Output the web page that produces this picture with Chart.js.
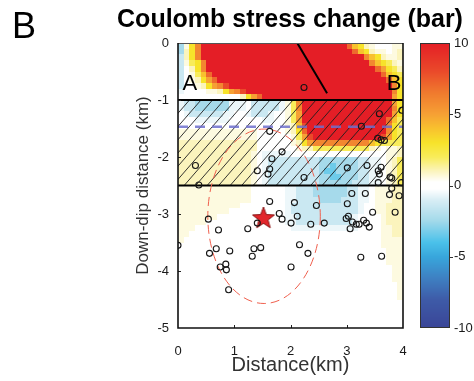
<!DOCTYPE html>
<html><head><meta charset="utf-8">
<script src="https://cdn.jsdelivr.net/npm/chart.js@4.4.1/dist/chart.umd.min.js"></script>
<style>html,body{margin:0;padding:0;background:#fff;}canvas{display:block;}</style>
</head><body>
<canvas id="c" width="474" height="381"></canvas>
<script>
// ---------------- data ----------------
const xTicks = [0, 1, 2, 3, 4];
const yTicks = [0, -1, -2, -3, -4, -5];
const cbarTicks = [-10, -5, 0, 5, 10];

// Coulomb stress change field (bar), 0.1 km cells, rows from 0 km downwards, 40 columns (0-4 km)
// run-length coded: level code, optional *count
const levelCodes = {R:10,'8':8,'7':7,'6':6,'5':5,'4':4,'3':3,'2':2,'1':1,p:0.6,'0':0,q:-0.6,a:-1.4,b:-2.4,c:-3.4};
const fieldX0 = 0, fieldDX = 0.1, fieldY0 = 0, fieldDY = -0.1, fieldCols = 40;
const fieldRows = [
 "b p 3 6 R*26 7 4 3 1 p 0*3 p p",
 "b 1 3 6 R*27 7 4 3 1 p p 0 p 1",
 "a 1 3 6 R*29 6 4 3 1 p p 1",
 "a p 2 3 6 R*29 6 4 3 2 1 p",
 "a 0 1 3 6 R*30 7 5 3 2 1",
 "a 0 p 2 4 7 R*30 7 4 3 2",
 "a 0 p 1 3 5 7 R*30 7 4 3",
 "a 0 0 p 1 3 5 6 8 R*29 6 3",
 "q 0*4 p p 1 3 5 6 8 R*26 6 3",
 "0*11 1 3 5 7 R*23 5 3",
 "q a*2 b*6 q*3 0 a*5 q p 2 6 R*16 5 3",
 "q a*2 b*6 q*3 0 a*5 q p 2 6 R*16 6 3",
 "0 q a*6 q*2 0*2 q a*3 q 0*2 p 2 5 R*16 5 3",
 "0*3 q*6 0*6 q*2 0*2 p 2 5 R*15 7 4 2",
 "0*19 p 1 4 8 R*14 6 3 2",
 "p*14 0*5 p 1 3 7 R*14 6 3 2",
 "p*14 0*6 p 2 5 8 R*12 8 5 3 2",
 "1*14 0*6 p 1 3 5 6*10 4 3 2 2 2 2",
 "1*14 0*7 p 1 1 2*10 1 p 0 p p 1",
 "1*13 p 0 q*5 0*15 0 0 p p 1",
 "1*13 p 0 q a*4 a*5 b*7 a*2 q*2 0 p 1 2",
 "1*13 p 0 q a*9 b b c b*4 a*2 q*2 0 p 1 2",
 "1*13 p 0 q a*9 b c c b*4 a*2 q*2 0 p 1 2",
 "1*13 p 0 q a*9 b b c c b*3 a*2 q*2 0 p 1 2",
 "1*13 p 0 q a*9 b*6 a a*2 q*2 0 p 1 2",
 "p*13 0*6 q q a*3 b*6 a*2 q*2 0 p*3 1*2",
 "p*13 0*6 q q a*3 b*6 a*2 q*2 0 p*3 1*2",
 "p*13 0*6 q q a*3 a b*4 a a*2 q*2 0 p*3 1*2",
 "p*11 0*8 q a*12 q 0*2 p*2 1*3",
 "p*9 0*10 q a*12 q 0*2 p*2 1*3",
 "p*7 0*12 q q a*10 q 0*4 p 1*3",
 "p*5 0*14 q*2 a*10 q 0*4 p 1*3",
 "p*3 0*17 q*12 0*4 p*2 1*2",
 "p*2 0*34 p*2 1*2",
 "p 0*35 p*4",
 "0*36 p*4",
 "0*37 p*3",
 "0*37 p*3",
 "0*37 p*3",
 "0*38 p*2",
 "0*38 p*2",
 "0*38 p*2",
 "0*39 p",
 "0*39 p",
 "0*39 p",
 "0*40","0*40","0*40","0*40","0*40"
];

// aftershock / event locations (km)
const eventsX = [2.24,3.58,3.98,3.26,1.63,3.55,3.61,3.67,1.85,1.67,0.31,1.41,1.63,1.60,3.01,3.36,3.61,3.56,3.58,3.77,3.80,3.56,3.97,2.24,0.37,
  3.80,3.76,3.93,3.86,3.62,3.25,3.09,3.33,3.01,3.46,2.99,3.03,3.10,3.06,3.17,3.22,3.30,3.35,3.40,2.07,2.46,2.12,2.01,2.36,2.60,2.16,2.31,2.01,
  0.00,0.54,0.72,0.56,0.68,0.92,0.75,0.85,0.86,0.90,1.24,1.41,1.63,1.80,1.85,1.35,1.32,1.47];
const eventsY = [-0.78,-1.24,-1.18,-1.46,-1.55,-1.67,-1.70,-1.71,-1.91,-2.03,-2.15,-2.24,-2.21,-2.30,-2.19,-2.15,-2.18,-2.24,-2.30,-2.35,-2.37,-2.45,-2.45,-2.36,-2.49,
  -2.55,-2.66,-2.68,-2.97,-3.74,-3.76,-2.64,-2.64,-2.82,-2.97,-3.08,-3.04,-3.14,-3.26,-3.18,-3.18,-3.11,-3.16,-3.23,-2.80,-2.85,-3.04,-3.16,-3.18,-3.16,-3.54,-3.69,-3.93,
  -3.55,-3.09,-3.28,-3.69,-3.61,-3.65,-3.93,-3.88,-3.98,-4.33,-3.26,-3.16,-2.78,-2.99,-3.09,-3.61,-3.74,-3.59];
const mainshockX = [1.52];
const mainshockY = [-3.07];
const faultTraceX = [2.12, 2.65];
const faultTraceY = [0, -0.88];
const hatchTop = -1.0, hatchBottom = -2.5;
const dashedDepth = -1.47;
const ellipseCenter = [1.53, -3.04];
const ellipseRadii = [1.0, 1.53];
const profileLabels = ['A', 'B'];
const profileLabelX = [0.21, 3.84];
const profileLabelY = [-0.71, -0.71];

// ---------------- helpers ----------------
const FONT = '"Liberation Sans", Arial, Helvetica, sans-serif';
Chart.defaults.font.family = FONT;

function decodeRow(s){
  const out = [];
  s.trim().split(/\s+/).forEach(tok => {
    const parts = tok.split('*');
    const k = parts[1] ? parseInt(parts[1], 10) : 1;
    for (let i = 0; i < k; i++) out.push(levelCodes[parts[0]]);
  });
  while (out.length < fieldCols) out.push(0);
  return out.slice(0, fieldCols);
}
const field = fieldRows.map(decodeRow);

const cmapStops = [
  [-10,'#3a4597'],[-8,'#3e5ba8'],[-6.5,'#3e80c2'],[-5,'#38a6dc'],[-4,'#4ac1ea'],[-2.5,'#a2d9ea'],
  [-1,'#d9eef5'],[-0.25,'#ffffff'],[0.25,'#ffffff'],[1,'#fbf4bd'],[2,'#f8ec5a'],[3,'#f7e32a'],
  [4,'#f8c12e'],[5,'#f6a034'],[6.5,'#f07a2e'],[8,'#ea4a2a'],[10,'#e41e26']
];
function hexRgb(h){ return [parseInt(h.slice(1,3),16),parseInt(h.slice(3,5),16),parseInt(h.slice(5,7),16)]; }
function colorFor(v){
  if (v <= cmapStops[0][0]) return cmapStops[0][1];
  for (let i = 1; i < cmapStops.length; i++){
    if (v <= cmapStops[i][0]){
      const [v0,c0] = cmapStops[i-1], [v1,c1] = cmapStops[i];
      const t = (v - v0) / (v1 - v0);
      const a = hexRgb(c0), b = hexRgb(c1);
      return 'rgb(' + a.map((x,j)=>Math.round(x + (b[j]-x)*t)).join(',') + ')';
    }
  }
  return cmapStops[cmapStops.length-1][1];
}

function makeStar(){
  const c = document.createElement('canvas'); c.width = 26; c.height = 26;
  const g = c.getContext('2d');
  g.beginPath();
  for (let i = 0; i < 10; i++){
    const r = i % 2 ? 4.8 : 11.5;
    const ang = -Math.PI/2 + i*Math.PI/5;
    g.lineTo(13 + r*Math.cos(ang), 13.5 + r*Math.sin(ang));
  }
  g.closePath();
  g.fillStyle = '#e2262b'; g.fill();
  g.strokeStyle = '#8a1515'; g.lineWidth = 1; g.stroke();
  return c;
}

const tickFont = {size: 13};
const tickColor = '#1a1a1a';

const overlay = {
  id: 'overlay',
  beforeDatasetsDraw(chart){
    const {ctx, chartArea: a, scales: {x, y}} = chart;
    ctx.save();
    ctx.beginPath(); ctx.rect(a.left, a.top, a.right - a.left, a.bottom - a.top); ctx.clip();
    // heat map cells
    field.forEach((row, r) => {
      row.forEach((v, c) => {
        const x0 = Math.round(x.getPixelForValue(fieldX0 + c*fieldDX));
        const x1 = Math.round(x.getPixelForValue(fieldX0 + (c+1)*fieldDX));
        const y0 = Math.round(y.getPixelForValue(fieldY0 + r*fieldDY));
        const y1 = Math.round(y.getPixelForValue(fieldY0 + (r+1)*fieldDY));
        ctx.fillStyle = colorFor(v);
        ctx.fillRect(x0, y0, x1 - x0, y1 - y0);
      });
    });
    // hatched zone
    const ht = y.getPixelForValue(hatchTop), hb = y.getPixelForValue(hatchBottom);
    ctx.save();
    ctx.beginPath(); ctx.rect(a.left, ht, a.right - a.left, hb - ht); ctx.clip();
    ctx.strokeStyle = '#1e1e1e'; ctx.lineWidth = 0.9;
    const run = (hb - ht) / 1.15;
    for (let k = a.left - run; k < a.right + 12; k += 11.5){
      ctx.beginPath(); ctx.moveTo(k, hb); ctx.lineTo(k + run, ht); ctx.stroke();
    }
    ctx.restore();
    ctx.strokeStyle = '#000'; ctx.lineWidth = 2;
    ctx.beginPath();
    ctx.moveTo(a.left, ht); ctx.lineTo(a.right, ht);
    ctx.moveTo(a.left, hb); ctx.lineTo(a.right, hb);
    ctx.stroke();
    // dashed reference depth
    const yd = y.getPixelForValue(dashedDepth);
    ctx.strokeStyle = 'rgba(110,112,205,0.85)'; ctx.lineWidth = 2.5; ctx.setLineDash([10, 7]);
    ctx.beginPath(); ctx.moveTo(a.left, yd); ctx.lineTo(a.right, yd); ctx.stroke();
    // rupture ellipse
    const cx = x.getPixelForValue(ellipseCenter[0]), cy = y.getPixelForValue(ellipseCenter[1]);
    const rx = x.getPixelForValue(ellipseCenter[0] + ellipseRadii[0]) - cx;
    const ry = cy - y.getPixelForValue(ellipseCenter[1] + ellipseRadii[1]);
    ctx.strokeStyle = '#f0604e'; ctx.lineWidth = 1; ctx.setLineDash([9, 5]);
    ctx.beginPath(); ctx.ellipse(cx, cy, rx, ry, 0, 0, Math.PI*2); ctx.stroke();
    ctx.setLineDash([]);
    ctx.restore();
  },
  afterDatasetsDraw(chart){
    const {ctx, scales: {x, y}} = chart;
    ctx.save();
    ctx.fillStyle = '#000';
    ctx.font = '22px ' + FONT;
    ctx.textAlign = 'center'; ctx.textBaseline = 'middle';
    profileLabels.forEach((t, i) => ctx.fillText(t, x.getPixelForValue(profileLabelX[i]), y.getPixelForValue(profileLabelY[i])));
    ctx.restore();
  },
  afterDraw(chart){
    const {ctx, chartArea: a, scales: {x, y, cbar}} = chart;
    ctx.save();
    // y tick labels (placed on the y scale, pixel-snapped)
    ctx.fillStyle = tickColor;
    ctx.font = tickFont.size + 'px ' + FONT;
    ctx.textAlign = 'right'; ctx.textBaseline = 'middle';
    yTicks.forEach(v => ctx.fillText(String(v), a.left - 9, Math.round(y.getPixelForValue(v))));
    // axis ticks (inward)
    ctx.strokeStyle = '#222'; ctx.lineWidth = 1;
    ctx.beginPath();
    xTicks.slice(1, -1).forEach(v => { const px = Math.round(x.getPixelForValue(v)) + 0.5; ctx.moveTo(px, a.bottom); ctx.lineTo(px, a.bottom - 3); });
    yTicks.slice(1, -1).forEach(v => { const py = Math.round(y.getPixelForValue(v)) + 0.5; ctx.moveTo(a.left, py); ctx.lineTo(a.left + 3, py); });
    ctx.stroke();
    // frame
    ctx.strokeStyle = '#555'; ctx.lineWidth = 1;
    ctx.beginPath(); ctx.moveTo(a.left, a.top + 0.5); ctx.lineTo(a.right, a.top + 0.5); ctx.stroke();
    ctx.strokeStyle = '#111'; ctx.lineWidth = 1.6;
    ctx.beginPath();
    ctx.moveTo(a.left, a.top); ctx.lineTo(a.left, a.bottom); ctx.lineTo(a.right, a.bottom); ctx.lineTo(a.right, a.top);
    ctx.stroke();
    // colour bar
    const bx0 = cbar.left + 17, bw = 30;
    const top = Math.round(cbar.getPixelForValue(10)), bot = Math.round(cbar.getPixelForValue(-10));
    for (let py = top; py < bot; py++){
      ctx.fillStyle = colorFor(cbar.getValueForPixel(py + 0.5));
      ctx.fillRect(bx0, py, bw, 1);
    }
    ctx.strokeStyle = '#333'; ctx.lineWidth = 1;
    ctx.strokeRect(bx0 + 0.5, top + 0.5, bw - 1, bot - top - 1);
    ctx.beginPath();
    cbarTicks.slice(1, -1).forEach(v => { const py = Math.round(cbar.getPixelForValue(v)) + 0.5; ctx.moveTo(bx0 + bw, py); ctx.lineTo(bx0 + bw + 3, py); });
    ctx.stroke();
    // panel label
    ctx.fillStyle = '#000';
    ctx.font = '36px ' + FONT;
    ctx.textAlign = 'left'; ctx.textBaseline = 'alphabetic';
    ctx.fillText('B', 12, 38);
    ctx.restore();
  }
};

const plainLabel = v => String(v);
new Chart(document.getElementById('c'), {
  type: 'scatter',
  data: {
    datasets: [
      {
        label: 'fault trace', type: 'line',
        data: faultTraceX.map((v, i) => ({x: v, y: faultTraceY[i]})),
        borderColor: '#000', borderWidth: 2, pointRadius: 0, fill: false
      },
      {
        label: 'events',
        data: eventsX.map((v, i) => ({x: v, y: eventsY[i]})),
        pointRadius: 3, pointBorderWidth: 1.1, pointBorderColor: '#151515', pointBackgroundColor: 'rgba(0,0,0,0)'
      },
      {
        label: 'mainshock',
        data: mainshockX.map((v, i) => ({x: v, y: mainshockY[i]})),
        pointStyle: makeStar(), pointRadius: 12
      }
    ]
  },
  options: {
    responsive: false, animation: false, devicePixelRatio: 1, events: [], locale: 'en-US',
    layout: {padding: {left: 106, right: 0, top: 0, bottom: 0}},
    plugins: {
      legend: {display: false}, tooltip: {enabled: false},
      title: {display: true, text: 'Coulomb stress change (bar)', color: '#000',
              font: {size: 25, weight: 'bold', lineHeight: 1.2}, padding: {top: 5, bottom: 8}}
    },
    scales: {
      x: {
        type: 'linear', min: 0, max: 4,
        afterBuildTicks: s => { s.ticks = xTicks.map(v => ({value: v})); },
        ticks: {color: tickColor, font: tickFont, padding: 8, callback: plainLabel},
        grid: {display: false}, border: {display: false},
        title: {display: true, text: 'Distance(km)', color: '#333', font: {size: 20}, padding: {top: 0, bottom: 4}},
        afterFit: s => { s.height = 53; }
      },
      y: {
        type: 'linear', min: -5, max: 0,
        afterBuildTicks: s => { s.ticks = yTicks.map(v => ({value: v})); },
        ticks: {display: false},
        grid: {display: false}, border: {display: false},
        title: {display: true, text: 'Down-dip distance (km)', color: '#333', font: {size: 17}, padding: {top: 27, bottom: 0}},
        afterFit: s => { s.width = 72; }
      },
      cbar: {
        type: 'linear', position: 'right', min: -10, max: 10,
        afterBuildTicks: s => { s.ticks = cbarTicks.map(v => ({value: v})); },
        ticks: {color: tickColor, font: tickFont, padding: 0, callback: plainLabel},
        grid: {display: true, drawOnChartArea: false, drawTicks: true, tickLength: 51, color: 'rgba(0,0,0,0)'},
        border: {display: false},
        afterFit: s => { s.width = 71; }
      }
    }
  },
  plugins: [overlay]
});
</script>
</body></html>
